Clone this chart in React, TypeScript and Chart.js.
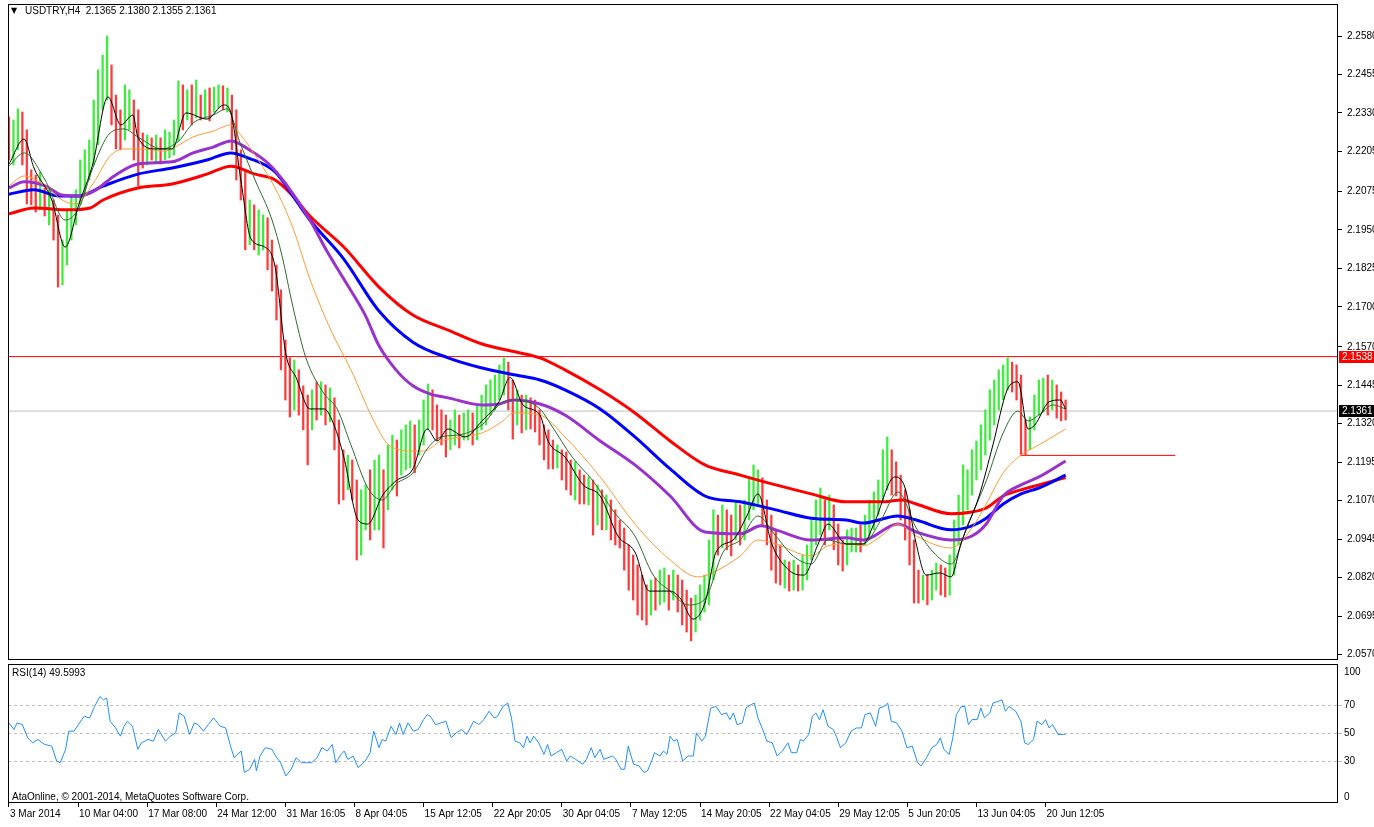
import React, { useEffect, useRef } from "react";
import { Chart, registerables } from "chart.js";

Chart.register(...registerables);

// Prices are stored in pips (0.0001) above BASE = 2.0000
const BASE = 2;
const toPrice = (pips: number) => BASE + pips / 10000;

// One bar per 8 hours
const closes = [
  2210, 2258, 2291, 2210, 2112, 2096, 2063, 2080, 2031, 2047, 1950, 1836, 1868, 1950, 1998, 2047,
  2096, 2145, 2177, 2242, 2372, 2437, 2502, 2340, 2275, 2258,
  2307, 2340, 2242, 2210, 2193, 2226, 2210, 2226, 2193, 2216, 2226, 2242, 2372, 2340, 2356,
  2340, 2372, 2333, 2356, 2340, 2372, 2388, 2366, 2372, 2275, 2145, 2128, 1950, 1998, 1917,
  1933, 1966, 1885, 1803, 1722, 1560, 1462, 1413, 1478, 1397, 1365, 1332, 1397, 1381, 1413,
  1365, 1397, 1300, 1170, 1137, 1170, 1121, 1007, 1040, 1072, 1007, 1105, 1137, 1072, 1170,
  1202, 1170, 1218, 1235, 1267, 1251, 1300, 1332, 1413, 1365, 1332, 1300, 1267, 1300, 1316,
  1300, 1316, 1332, 1306, 1332, 1365, 1381, 1413, 1430, 1462, 1495, 1413, 1365, 1397, 1348,
  1365, 1348, 1332, 1283, 1251, 1235, 1202, 1218, 1170, 1153, 1121, 1137, 1105, 1088, 1105,
  1040, 1056, 1023, 1040, 991, 975, 958, 893, 844, 812, 779, 747, 731, 779, 763,
  779, 796, 779, 812, 763, 731, 698, 682, 714, 747, 763, 877, 975, 958, 1007,
  975, 958, 1007, 991, 1023, 1088, 1105, 1137, 1040, 975, 926, 877, 828, 844, 812,
  828, 812, 844, 877, 926, 991, 1023, 1007, 1040, 975, 910, 877, 926, 942, 958,
  942, 975, 1007, 1056, 1072, 1170, 1202, 1153, 1137, 1072, 1007, 926, 828, 779, 796,
  779, 796, 828, 812, 779, 844, 942, 1007, 1072, 1105, 1170, 1218, 1251, 1300, 1365,
  1397, 1446, 1462, 1495, 1478, 1446, 1267, 1251, 1316, 1365, 1397, 1413, 1381, 1397, 1381, 1365, 1361,
];

const highs = [
  2317, 2307, 2343, 2333, 2275, 2145, 2128, 2138, 2086, 2080, 2047, 1998, 1917, 2015, 2060, 2080,
  2177, 2210, 2242, 2372, 2470, 2518, 2580, 2486, 2388, 2340,
  2421, 2405, 2372, 2340, 2265, 2258, 2249, 2258, 2249, 2275, 2268, 2307, 2434, 2421, 2405,
  2421, 2437, 2388, 2405, 2411, 2414, 2421, 2418, 2411, 2388, 2340, 2210, 2145, 2047, 2031,
  2015, 1998, 1989, 1917, 1836, 1755, 1592, 1534, 1527, 1495, 1443, 1413, 1430, 1456, 1456,
  1446, 1436, 1404, 1332, 1235, 1218, 1202, 1137, 1105, 1121, 1170, 1202, 1218, 1170, 1251,
  1283, 1267, 1300, 1316, 1329, 1316, 1332, 1397, 1449, 1430, 1381, 1365, 1348, 1332, 1365,
  1348, 1355, 1365, 1355, 1381, 1413, 1446, 1462, 1478, 1511, 1534, 1520, 1462, 1430, 1413,
  1413, 1404, 1397, 1365, 1316, 1300, 1267, 1251, 1235, 1228, 1202, 1196, 1170, 1153, 1147,
  1137, 1121, 1105, 1088, 1072, 1040, 1007, 981, 926, 893, 861, 828, 796, 812, 818,
  844, 851, 828, 844, 828, 812, 779, 753, 763, 796, 828, 942, 1040, 1023, 1056,
  1040, 1023, 1066, 1056, 1072, 1144, 1186, 1170, 1144, 1072, 1023, 975, 926, 877, 871,
  877, 861, 893, 926, 1007, 1072, 1111, 1072, 1088, 1056, 994, 942, 975, 981, 981,
  991, 1023, 1072, 1098, 1137, 1235, 1277, 1235, 1196, 1153, 1105, 1040, 942, 844, 828,
  828, 844, 867, 861, 851, 893, 1007, 1088, 1186, 1170, 1235, 1264, 1316, 1365, 1430,
  1462, 1495, 1511, 1534, 1520, 1511, 1478, 1332, 1342, 1413, 1462, 1468, 1478, 1462, 1446, 1423, 1397,
];

const lows = [
  2177, 2161, 2210, 2161, 2034, 2031, 2008, 2015, 1995, 1966, 1917, 1764, 1771, 1836, 1917, 1966,
  2031, 2063, 2112, 2161, 2226, 2340, 2372, 2291, 2213, 2210,
  2242, 2275, 2177, 2093, 2151, 2161, 2177, 2171, 2164, 2177, 2184, 2193, 2239, 2275, 2307,
  2291, 2314, 2307, 2314, 2304, 2333, 2346, 2340, 2333, 2210, 2112, 2047, 1885, 1901, 1885,
  1868, 1885, 1820, 1751, 1657, 1495, 1397, 1342, 1365, 1348, 1300, 1186, 1300, 1332, 1348,
  1316, 1326, 1235, 1059, 1072, 1105, 1072, 877, 893, 975, 942, 975, 975, 916, 1040,
  1105, 1085, 1153, 1170, 1176, 1160, 1218, 1251, 1300, 1300, 1267, 1251, 1212, 1235, 1251,
  1241, 1267, 1267, 1251, 1267, 1300, 1316, 1348, 1365, 1397, 1413, 1365, 1270, 1316, 1290,
  1300, 1303, 1293, 1251, 1202, 1173, 1173, 1176, 1137, 1105, 1088, 1072, 1059, 1059, 1056,
  958, 991, 975, 975, 942, 926, 916, 844, 779, 747, 698, 682, 666, 698, 714,
  731, 740, 714, 747, 708, 666, 643, 614, 643, 682, 708, 731, 812, 893, 916,
  910, 890, 942, 926, 942, 1007, 1040, 1056, 991, 926, 844, 802, 796, 786, 776,
  779, 776, 779, 812, 877, 926, 958, 926, 975, 910, 861, 841, 861, 903, 903,
  903, 926, 942, 975, 1023, 1072, 1105, 1088, 1085, 1007, 942, 861, 737, 737, 747,
  731, 747, 779, 763, 757, 763, 828, 926, 991, 1040, 1088, 1137, 1170, 1218, 1267,
  1316, 1365, 1397, 1430, 1423, 1397, 1218, 1218, 1235, 1300, 1348, 1358, 1348, 1365, 1338, 1329, 1332,
];

// Moving averages: [bar index, pips]
const maRed = [
  [0, 2002], [5.6, 2021], [13.5, 2015], [18.2, 2021], [21.1, 2047], [28.9, 2086], [36.6, 2099],
  [44.4, 2131], [49.8, 2157], [55.2, 2131], [59.7, 2112], [63.7, 2060], [67.5, 1995], [75.1, 1894],
  [83, 1764], [90.6, 1673], [98.5, 1624], [106.1, 1579], [113.7, 1553], [119.1, 1534], [124.7, 1495],
  [132.6, 1430], [140.4, 1355], [148.3, 1264], [156.1, 1186], [164, 1153], [172, 1121], [179.9, 1092],
  [187.8, 1066], [195.6, 1066], [200.3, 1072], [203.5, 1059], [211.3, 1027], [216, 1033], [219.2, 1046],
  [223, 1085], [227, 1105], [231, 1121], [237, 1145],
];
const maBlue = [
  [0, 2066], [5.6, 2080], [11.2, 2060], [15.7, 2060], [21.1, 2092], [28.9, 2131], [36.6, 2151],
  [44.4, 2177], [49.8, 2200], [53.6, 2184], [59.7, 2138], [63.7, 2060], [67.5, 1982], [75.1, 1855],
  [83, 1686], [90.6, 1585], [98.5, 1534], [106.1, 1501], [113.7, 1478], [119.1, 1462], [124.7, 1430],
  [132.6, 1368], [140.4, 1277], [148.3, 1173], [156.1, 1085], [164, 1066], [172, 1040], [179.9, 1013],
  [187.8, 1007], [191.6, 997], [199.4, 1020], [203.5, 1007], [211.3, 975], [216, 988], [219.2, 1013],
  [223, 1059], [227, 1092], [231, 1111], [237, 1153],
];
const maPurple = [
  [0, 2086], [3.4, 2106], [8.1, 2093], [11.9, 2063], [15.7, 2060], [19.5, 2080], [23.6, 2125],
  [28.9, 2164], [36.6, 2171], [41.3, 2200], [45.8, 2219], [49.8, 2239], [53.6, 2213], [58.3, 2164],
  [62.1, 2099], [67.5, 1982], [71.3, 1881], [75.1, 1790], [79.9, 1673], [83, 1573], [86.8, 1495],
  [90.6, 1443], [94.4, 1417], [98.5, 1404], [106.1, 1381], [109.9, 1384], [113.1, 1397], [119.1, 1384],
  [124.7, 1348], [132.6, 1264], [140.4, 1186], [148.3, 1085], [156.1, 968], [164, 962], [168.7, 988],
  [172, 975], [179.9, 942], [187.8, 949], [191.6, 942], [199.4, 994], [203.5, 968], [211.3, 942],
  [216, 955], [219.2, 994], [223, 1085], [227, 1121], [231, 1147], [237, 1199],
];
const maOrange = [
  [0, 2093], [3.4, 2125], [8.1, 2093], [11.9, 2047], [15, 2034], [18.8, 2099], [22.7, 2190],
  [25.8, 2213], [29.6, 2213], [35, 2206], [38.1, 2226], [41.3, 2252], [45.8, 2271], [49.8, 2291],
  [52, 2258], [55.9, 2177], [59.7, 2086], [63.7, 1956], [67.5, 1790], [72.2, 1624], [76.7, 1495],
  [81.4, 1342], [85.2, 1251], [90.6, 1231], [93.1, 1231], [96.9, 1264], [101.4, 1277], [106.1, 1290],
  [110.8, 1329], [113.1, 1355], [119.1, 1348], [124.7, 1277], [132.6, 1147], [140.4, 994], [148.3, 877],
  [154.5, 822], [157.7, 835], [164, 890], [168, 942], [172, 929], [179.9, 890], [183.7, 923],
  [187.8, 929], [191.6, 923], [195.6, 955], [199.4, 994], [203.5, 955], [211.3, 916], [216, 981],
  [219.2, 1059], [223, 1160], [227, 1218], [231, 1251], [237, 1303],
];
const maGreen = [
  [0, 2158], [3.4, 2200], [8.1, 2112], [12.6, 1982], [15.7, 2021], [18.8, 2151], [22.7, 2265],
  [25.8, 2278], [28.9, 2252], [34.3, 2213], [38.1, 2239], [41.3, 2297], [45.8, 2323], [48.9, 2343],
  [52, 2226], [55.2, 2112], [59, 1982], [61.2, 1868], [63.7, 1699], [66.6, 1534], [70.7, 1417],
  [73.6, 1368], [76.7, 1251], [80.5, 1111], [83.7, 1072], [86.8, 1124], [90.6, 1160], [93.8, 1238],
  [96.9, 1277], [100.7, 1283], [106.1, 1316], [110.8, 1391], [113.7, 1397], [119.1, 1368], [121.6, 1316],
  [126.3, 1212], [131, 1134], [135.7, 1033], [140.4, 955], [144.5, 828], [148.3, 776], [152.3, 731],
  [156.1, 750], [160.2, 903], [164, 942], [168, 1020], [172, 955], [175.9, 890], [179.9, 864],
  [183.7, 942], [187.8, 929], [191.6, 929], [195.6, 1007], [199.4, 1098], [203.5, 981], [207.3, 903],
  [211.3, 864], [215.1, 994], [219.2, 1134], [223, 1290], [226.3, 1361], [228.6, 1329], [231, 1348],
  [234.2, 1381], [237, 1368],
];
const maBlack = [
  [0, 2164], [3.4, 2245], [5.6, 2151], [9.6, 2047], [12.6, 1894], [15.7, 2034], [18.8, 2164],
  [22.2, 2382], [25.1, 2291], [27.8, 2323], [28.9, 2252], [32.8, 2213], [36.6, 2213], [39.7, 2330],
  [44.4, 2310], [48.2, 2356], [49.8, 2330], [52, 2112], [54.3, 1920], [57.4, 1894], [59.7, 1829],
  [62.1, 1547], [64.4, 1470], [67.5, 1368], [70.7, 1368], [72.9, 1316], [75.1, 1212], [78.3, 1007],
  [80.5, 994], [83.7, 1085], [86.8, 1134], [90.6, 1173], [93.8, 1303], [96, 1264], [98.5, 1303],
  [102.3, 1277], [106.1, 1329], [109.9, 1391], [112.4, 1470], [115.3, 1381], [119.1, 1348], [120.9, 1264],
  [124.7, 1212], [128.8, 1121], [132.6, 1085], [136.6, 955], [140.4, 903], [143.6, 776], [148.3, 776],
  [150.7, 750], [153.4, 685], [156.1, 737], [158.6, 903], [162.4, 942], [165.5, 1020], [168, 1092],
  [171.1, 929], [175.2, 841], [178.3, 828], [181.5, 929], [183.7, 994], [187.8, 929], [191.6, 929],
  [194, 994], [198.7, 1147], [201, 1111], [203.5, 929], [205.7, 828], [208.8, 835], [211.3, 822],
  [213.5, 929], [217.6, 1085], [220.7, 1251], [223.9, 1430], [226.3, 1456], [228.6, 1303], [230.1, 1316],
  [233.3, 1391], [235.8, 1397], [237, 1368],
];

// RSI(14): [bar index, value]
const rsi14 = [
  [0, 57.6], [1.1, 52.9], [1.8, 57.6], [3, 56.4], [4.2, 46.9], [5.3, 43.3], [6.5, 45.7], [8, 42.1],
  [9.6, 40.9], [10.7, 30.2], [11.5, 29], [12.7, 38.6], [13.4, 51.7], [14.6, 51.7], [15.8, 57.6],
  [16.9, 62.4], [18.1, 61.2], [19.2, 69.5], [20.4, 76.6], [21.2, 74.3], [21.9, 75.5], [22.7, 58.8],
  [23.9, 54], [25, 48.1], [25.8, 55.2], [26.6, 58.8], [27.7, 55.2], [28.9, 38.6], [29.7, 43.3],
  [31.2, 45.7], [32.4, 44.5], [33.5, 52.9], [35.1, 44.5], [36.2, 48.1], [37.4, 50.5], [38.2, 64.8],
  [39.3, 62.4], [40.5, 49.3], [41.6, 57.6], [42.4, 56.4], [43.6, 51.7], [44.7, 56.4], [45.9, 61.2],
  [47.4, 55.2], [48.6, 54], [49.7, 40.9], [50.5, 32.6], [51.3, 35], [52.1, 37.4], [52.8, 21.9],
  [54, 24.3], [55.1, 31.4], [55.5, 23.1], [56.3, 33.8], [57.5, 39.8], [59, 38.6], [59.8, 33.8],
  [60.9, 29], [62.1, 19.5], [63.3, 24.3], [64.4, 32.6], [65.6, 29], [66.7, 29], [67.9, 29],
  [69.1, 32.6], [70.2, 39.8], [71.4, 37.4], [72.5, 42.1], [73.3, 29], [74.5, 35], [75.2, 37.4],
  [76, 31.4], [77.2, 33.8], [78.3, 25.5], [79.9, 30.2], [81, 36.2], [81.8, 51.7], [83, 39.8],
  [83.7, 45.7], [84.5, 44.5], [85.7, 55.2], [86.8, 49.3], [87.6, 57.6], [88.4, 49.3], [89.5, 57.6],
  [90.7, 51.7], [91.8, 52.9], [93, 60], [93.8, 63.6], [94.5, 62.4], [95.7, 56.4], [96.9, 57.6],
  [98, 58.8], [99.2, 46.9], [100.3, 50.5], [101.5, 52.9], [102.7, 49.3], [104.2, 58.8], [105.4, 56.4],
  [106.5, 60], [107.7, 66], [108.8, 61.2], [109.6, 62.4], [110.8, 69.5], [111.9, 71.9], [112.7, 61.2],
  [113.5, 44.5], [114.6, 43.3], [115.4, 39.8], [116.2, 48.1], [116.9, 43.3], [117.7, 48.1], [118.8, 43.3],
  [120, 35], [120.8, 42.1], [121.6, 33.8], [122.8, 36.2], [124, 38.6], [125.1, 30.2], [125.9, 33.8],
  [127.1, 31.4], [128.7, 27.9], [129.5, 31.4], [130.6, 39.8], [131.4, 32.6], [132.6, 38.6], [133.4, 31.4],
  [135.4, 33.8], [136.1, 31.4], [137.3, 24.3], [138.1, 24.3], [138.9, 40.9], [140.1, 27.9], [141.3, 26.7],
  [142.4, 21.9], [143.2, 23.1], [144, 29], [144.8, 36.2], [146, 33.8], [146.8, 37.4], [147.6, 35],
  [148.3, 48.1], [149.1, 44.5], [149.9, 45.7], [151.1, 30.2], [152.3, 33.8], [153.5, 33.8], [154.2, 50.5],
  [155.4, 44.5], [156.2, 48.1], [157.4, 68.3], [158.6, 69.5], [159.8, 63.6], [160.9, 64.8], [161.7, 60],
  [162.5, 64.8], [163.3, 56.4], [164.5, 57.6], [165.3, 68.3], [166.4, 70.7], [167.2, 71.9], [168, 61.2],
  [169.2, 51.7], [170, 44.5], [171.2, 43.3], [172.3, 33.8], [173.5, 37.4], [174.7, 43.3], [175.5, 36.2],
  [176.7, 36.2], [177.5, 45.7], [178.2, 44.5], [179.4, 49.3], [180.2, 62.4], [181, 64.8], [181.8, 60],
  [182.6, 67.1], [183.7, 55.2], [184.9, 52.9], [185.7, 46.9], [186.5, 39.8], [187.7, 43.3], [188.9, 51.7],
  [190.1, 54], [191.2, 54], [192, 63.6], [193.2, 64.8], [194.4, 55.2], [195.2, 68.3], [196.3, 69.5],
  [197.1, 71.9], [197.9, 58.8], [199.1, 57.6], [200.3, 51.7], [201.4, 39.8], [202.6, 40.9], [203.8, 29],
  [204.6, 26.7], [205.8, 32.6], [207, 39.8], [208.1, 42.1], [208.9, 46.9], [209.7, 38.6], [210.9, 35],
  [211.7, 46.9], [212.5, 63.6], [213.6, 69.5], [214.4, 69.5], [215.2, 56.4], [216, 60], [217.2, 60],
  [218, 68.3], [218.8, 61.2], [220, 64.8], [220.7, 71.9], [221.9, 73.1], [222.7, 74.3], [223.5, 66],
  [224.3, 69.5], [225.8, 66], [227, 58.8], [227.8, 43.3], [228.6, 42.1], [229.8, 45.7], [230.6, 58.8],
  [231.7, 56.4], [232.5, 60], [233.3, 54], [234.1, 56.4], [235.3, 49.3], [236.5, 49.3], [237, 49.6],
];

const priceTicks = [
  2.258, 2.2455, 2.233, 2.2205, 2.2075, 2.195, 2.1825, 2.17, 2.157, 2.1445, 2.132, 2.1195, 2.107,
  2.0945, 2.082, 2.0695, 2.057,
];
const rsiTicks = [70, 50, 30];
const rsiEdgeLabels = ["100", "0"];
const timeLabels = [
  "3 Mar 2014", "10 Mar 04:00", "17 Mar 08:00", "24 Mar 12:00", "31 Mar 16:05", "8 Apr 04:05",
  "15 Apr 12:05", "22 Apr 20:05", "30 Apr 04:05", "7 May 12:05", "14 May 20:05", "22 May 04:05",
  "29 May 12:05", "5 Jun 20:05", "13 Jun 04:05", "20 Jun 12:05",
];
const BARS_PER_LABEL = 15.5;

const resistanceLevel = 2.1538;
const bidPrice = 2.1361;
const supportLine = { from: 226.8, to: 261.6, value: 2.1217 };

const titleText = "USDTRY,H4  2.1365 2.1380 2.1355 2.1361";
const rsiTitle = "RSI(14) 49.5993";
const copyright = "AtaOnline, \u00a9 2001-2014, MetaQuotes Software Corp.";

const X_MIN = -0.22;
const X_MAX = 298.1;
const FAMILY = "'Liberation Sans', Arial, sans-serif";
const FONT = `10px ${FAMILY}`;

const pts = (arr: number[][]) => arr.map(([x, p]) => ({ x, y: toPrice(p) }));

function maLine(data: number[][], color: string, width: number, order: number) {
  return {
    type: "line" as const,
    data: pts(data),
    borderColor: color,
    borderWidth: width,
    pointRadius: 0,
    cubicInterpolationMode: "monotone" as const,
    order,
  };
}

function levelLine(x0: number, x1: number, y: number, color: string, order: number) {
  return {
    type: "line" as const,
    data: [{ x: x0, y }, { x: x1, y }],
    borderColor: color,
    borderWidth: 1,
    pointRadius: 0,
    order,
  };
}

const mainDecor = {
  id: "mainDecor",
  afterDraw(chart: any) {
    const { ctx, chartArea: a, scales } = chart;
    ctx.save();
    ctx.strokeStyle = "#000";
    ctx.lineWidth = 1;
    ctx.strokeRect(a.left + 0.5, a.top + 0.5, a.right - a.left - 1, a.bottom - a.top - 1);
    const box = (v: number, bg: string) => {
      const y = Math.round(scales.y.getPixelForValue(v));
      ctx.fillStyle = bg;
      ctx.fillRect(a.right + 1, y - 6, 40, 12);
      ctx.fillStyle = "#fff";
      ctx.font = FONT;
      ctx.textBaseline = "middle";
      ctx.textAlign = "left";
      ctx.fillText(v.toFixed(4), a.right + 4, y + 0.5);
    };
    box(resistanceLevel, "#ff0000");
    box(bidPrice, "#000000");
    ctx.fillStyle = "#000";
    ctx.font = `8px 'DejaVu Sans', sans-serif`;
    ctx.textBaseline = "middle";
    ctx.textAlign = "left";
    ctx.fillText("\u25bc", a.left + 3, a.top + 7);
    ctx.font = FONT;
    ctx.fillText(titleText, a.left + 17, a.top + 7);
    ctx.restore();
  },
};

const rsiDecor = {
  id: "rsiDecor",
  afterDraw(chart: any) {
    const { ctx, chartArea: a } = chart;
    ctx.save();
    ctx.strokeStyle = "#000";
    ctx.lineWidth = 1;
    ctx.strokeRect(a.left + 0.5, a.top + 0.5, a.right - a.left - 1, a.bottom - a.top - 1);
    ctx.fillStyle = "#000";
    ctx.font = FONT;
    ctx.textBaseline = "middle";
    ctx.textAlign = "left";
    ctx.fillText(rsiTitle, a.left + 4, a.top + 9);
    ctx.fillText(copyright, a.left + 4, a.bottom - 6);
    ctx.fillText(rsiEdgeLabels[0], a.right + 6, a.top + 8);
    ctx.fillText(rsiEdgeLabels[1], a.right + 6, a.bottom - 6);
    ctx.restore();
  },
};

export default function App() {
  const mainRef = useRef<HTMLCanvasElement>(null);
  const rsiRef = useRef<HTMLCanvasElement>(null);

  useEffect(() => {
    const barData = closes.map((_, i) => ({ x: i, y: [toPrice(lows[i]), toPrice(highs[i])] }));
    const barColors = closes.map((c, i) => (i > 0 && c > closes[i - 1] ? "#3aee3a" : "#ff3a3a"));

    const main = new Chart(mainRef.current as HTMLCanvasElement, {
      type: "bar",
      data: {
        datasets: [
          {
            type: "bar",
            data: barData as any,
            backgroundColor: barColors,
            borderWidth: 0,
            barThickness: 1.6,
            grouped: false,
            order: 10,
          } as any,
          maLine(maRed, "#ff0000", 3, 6),
          maLine(maBlue, "#0000ff", 3, 5),
          maLine(maPurple, "#9932cc", 3, 4),
          maLine(maOrange, "#ff9933", 1, 3),
          maLine(maGreen, "#2e6b2e", 1, 2),
          maLine(maBlack, "#000000", 1, 1),
          levelLine(X_MIN, X_MAX, resistanceLevel, "#ff0000", 12),
          levelLine(X_MIN, X_MAX, bidPrice, "#c0c0c0", 13),
          levelLine(supportLine.from, supportLine.to, supportLine.value, "#ff0000", 11),
        ] as any,
      },
      options: {
        responsive: false,
        animation: false,
        devicePixelRatio: 1,
        events: [],
        layout: { padding: { left: 8, top: 4, right: 0, bottom: 2 } },
        plugins: { legend: { display: false }, tooltip: { enabled: false } },
        scales: {
          x: { type: "linear", min: X_MIN, max: X_MAX, display: false, offset: false },
          y: {
            position: "right",
            min: 2.0552,
            max: 2.2684,
            afterBuildTicks: (s: any) => {
              s.ticks = priceTicks.map((v) => ({ value: v }));
            },
            afterFit: (s: any) => {
              s.width = 36;
              s.paddingTop = 0;
              s.paddingBottom = 0;
            },
            grid: { drawOnChartArea: false, drawTicks: true, tickLength: 4, color: "#000" },
            border: { display: false },
            ticks: {
              autoSkip: false,
              padding: 5,
              color: "#000",
              font: { family: FAMILY, size: 10 },
              callback: (v: any) => Number(v).toFixed(4),
            },
          },
        },
      } as any,
      plugins: [mainDecor],
    });

    const rsiChart = new Chart(rsiRef.current as HTMLCanvasElement, {
      type: "line",
      data: {
        datasets: [
          {
            data: rsi14.map(([x, v]) => ({ x, y: v })),
            borderColor: "#1e90ff",
            borderWidth: 1,
            pointRadius: 0,
          },
        ],
      },
      options: {
        responsive: false,
        animation: false,
        devicePixelRatio: 1,
        events: [],
        layout: { padding: { left: 8, top: 2, right: 0, bottom: 4 } },
        plugins: { legend: { display: false }, tooltip: { enabled: false } },
        scales: {
          x: {
            type: "linear",
            position: "bottom",
            min: X_MIN,
            max: X_MAX,
            offset: false,
            afterBuildTicks: (s: any) => {
              s.ticks = timeLabels.map((_, k) => ({ value: k * BARS_PER_LABEL }));
            },
            afterFit: (s: any) => {
              s.height = 20;
              s.paddingLeft = 0;
              s.paddingRight = 0;
            },
            grid: { drawOnChartArea: false, drawTicks: true, tickLength: 4, color: "#000" },
            border: { display: false },
            ticks: {
              autoSkip: false,
              maxRotation: 0,
              minRotation: 0,
              align: "start",
              labelOffset: 1,
              padding: 1,
              color: "#000",
              font: { family: FAMILY, size: 10 },
              callback: (_v: any, i: number) => timeLabels[i],
            },
          },
          y: {
            position: "right",
            min: 0,
            max: 100,
            afterBuildTicks: (s: any) => {
              s.ticks = rsiTicks.map((v) => ({ value: v }));
            },
            afterFit: (s: any) => {
              s.width = 36;
              s.paddingTop = 0;
              s.paddingBottom = 0;
            },
            grid: {
              drawOnChartArea: true,
              drawTicks: true,
              tickLength: 4,
              color: "#c0c0c0",
            },
            border: { display: false, dash: [3, 3] },
            ticks: {
              autoSkip: false,
              padding: 2,
              color: "#000",
              font: { family: FAMILY, size: 10 },
              callback: (v: any) => String(v),
            },
          },
        },
      } as any,
      plugins: [rsiDecor],
    });

    return () => {
      main.destroy();
      rsiChart.destroy();
    };
  }, []);

  return (
    <div style={{ position: "fixed", left: 0, top: 0, width: 1374, height: 827, background: "#fff" }}>
      <canvas
        ref={mainRef}
        width={1374}
        height={662}
        style={{ position: "absolute", left: 0, top: 0, width: 1374, height: 662 }}
      />
      <canvas
        ref={rsiRef}
        width={1374}
        height={165}
        style={{ position: "absolute", left: 0, top: 662, width: 1374, height: 165 }}
      />
    </div>
  );
}
